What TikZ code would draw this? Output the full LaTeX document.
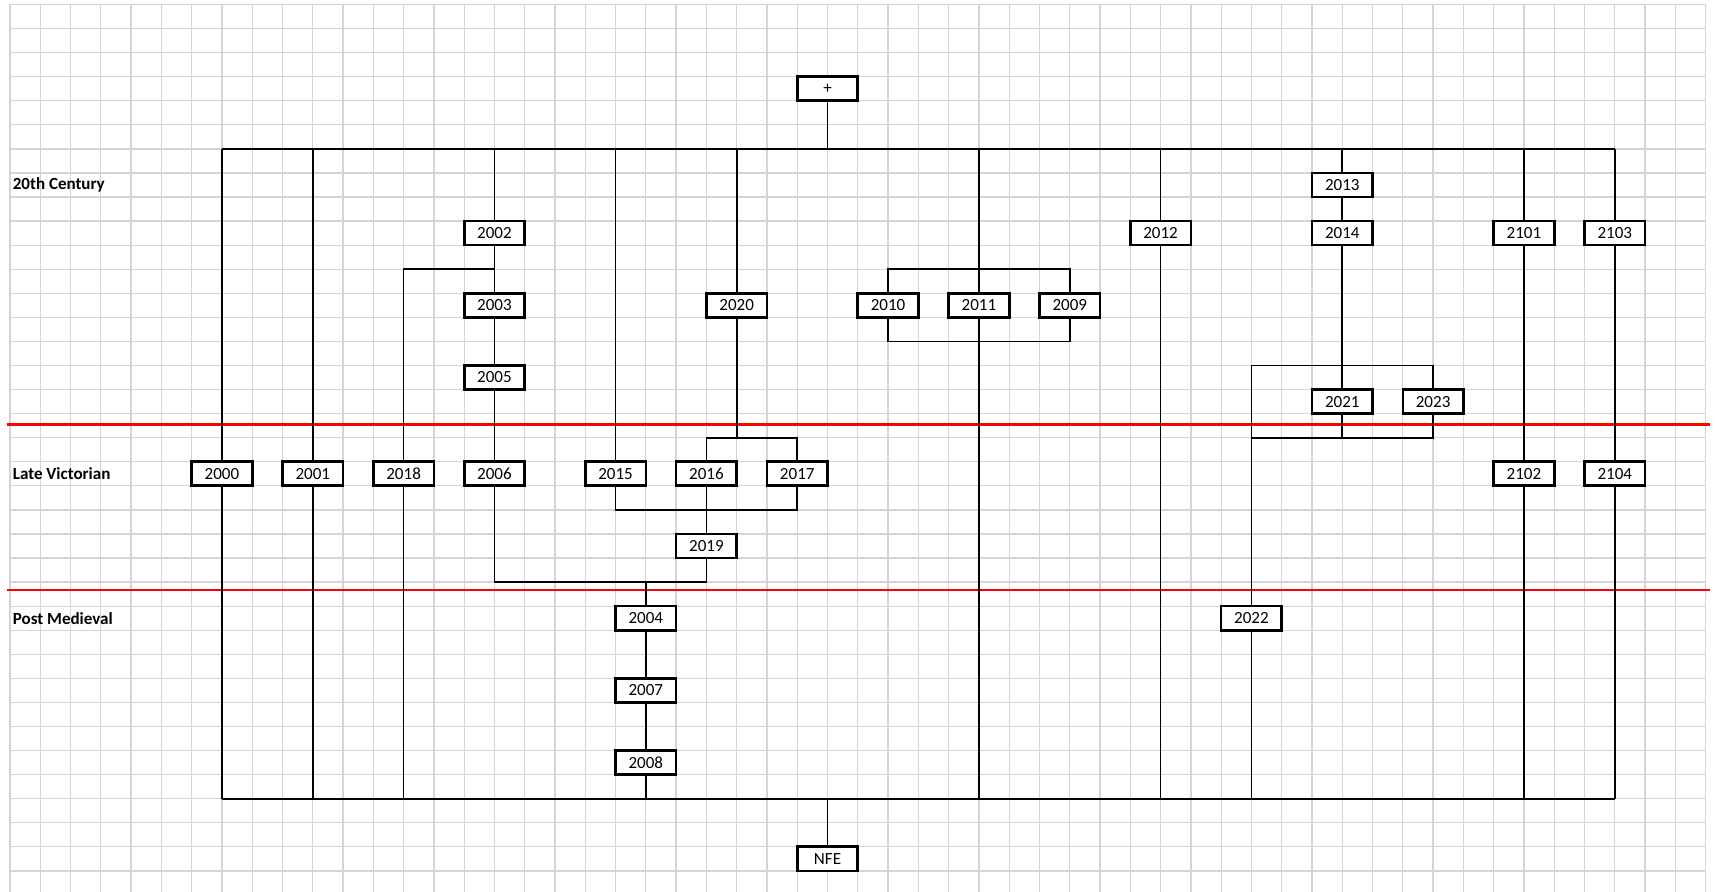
\documentclass[tikz,border=0pt]{standalone}
\usepackage{fontspec}
\setmainfont{Carlito}
\usepackage{tikz}
\definecolor{Gr}{RGB}{212, 212, 212}
\definecolor{R}{RGB}{255, 0, 0}
\tikzset{
	celda/.style={color=Gr, line width=0.6pt},
	fase/.style={color=R, line width=1pt},
	caja/.style={draw, fill=white, line width=1.25pt, minimum width=1cm, minimum height=0.3974cm, inner sep=0pt, font=\fontsize{8}{9}\selectfont},
	periodo/.style={anchor=west, inner sep=0pt, font=\bfseries\fontsize{8}{9}\selectfont},
	linea/.style={line width=0.8pt}
}

\begin{document}
\begin{tikzpicture}[x=0.5cm, y=-0.3974cm]
	\useasboundingbox (-0.33,-0.187) rectangle (56.31,36.87);

	%Cuadricula de fondo
	\foreach \c in {0,...,56}
		\draw[celda] (\c,0) -- (\c,36.87);
	\foreach \r in {0,...,36}
		\draw[celda] (0,\r) -- (56,\r);

	%Lineas rojas entre periodos
	\draw[fase] (-0.1,17.45) -- (56.14,17.45);
	\draw[fase] (-0.1,24.33) -- (56.14,24.33);

	%Periodos
	\node[periodo] (siglo) at (0.08,7.5) {20th Century};
	\node[periodo] (victoriano) at (0.08,19.5) {Late Victorian};
	\node[periodo] (medieval) at (0.08,25.5) {Post Medieval};

	%Cajas
	\node[caja] (mas) at (27,3.5) {+};
	\node[caja] (n2013) at (44,7.5) {2013};
	\node[caja] (n2002) at (16,9.5) {2002};
	\node[caja] (n2012) at (38,9.5) {2012};
	\node[caja] (n2014) at (44,9.5) {2014};
	\node[caja] (n2101) at (50,9.5) {2101};
	\node[caja] (n2103) at (53,9.5) {2103};
	\node[caja] (n2003) at (16,12.5) {2003};
	\node[caja] (n2020) at (24,12.5) {2020};
	\node[caja] (n2010) at (29,12.5) {2010};
	\node[caja] (n2011) at (32,12.5) {2011};
	\node[caja] (n2009) at (35,12.5) {2009};
	\node[caja] (n2005) at (16,15.5) {2005};
	\node[caja] (n2021) at (44,16.5) {2021};
	\node[caja] (n2023) at (47,16.5) {2023};
	\node[caja] (n2000) at (7,19.5) {2000};
	\node[caja] (n2001) at (10,19.5) {2001};
	\node[caja] (n2018) at (13,19.5) {2018};
	\node[caja] (n2006) at (16,19.5) {2006};
	\node[caja] (n2015) at (20,19.5) {2015};
	\node[caja] (n2016) at (23,19.5) {2016};
	\node[caja] (n2017) at (26,19.5) {2017};
	\node[caja] (n2102) at (50,19.5) {2102};
	\node[caja] (n2104) at (53,19.5) {2104};
	\node[caja] (n2019) at (23,22.5) {2019};
	\node[caja] (n2004) at (21,25.5) {2004};
	\node[caja] (n2022) at (41,25.5) {2022};
	\node[caja] (n2007) at (21,28.5) {2007};
	\node[caja] (n2008) at (21,31.5) {2008};
	\node[caja] (nfe) at (27,35.5) {NFE};

	%Puntos de union
	\coordinate (arribaI) at (7,6);
	\coordinate (arribaD) at (53,6);
	\coordinate (abajoI) at (7,33);
	\coordinate (abajoD) at (53,33);
	\coordinate (u2018) at (16,11);
	\coordinate (u2020) at (24,18);
	\coordinate (u2019) at (23,21);
	\coordinate (u2004) at (21,24);
	\coordinate (u2011a) at (32,11);
	\coordinate (u2011b) at (32,14);
	\coordinate (u2022a) at (41,15);
	\coordinate (u2022b) at (41,18);

	\begin{scope}[linea]
		%Barras superior e inferior
		\draw (arribaI) -- (arribaD);
		\draw (abajoI) -- (abajoD);
		\draw (mas.south) -- (mas |- arribaI);
		\draw (nfe.north) -- (nfe |- abajoI);

		%Columnas simples
		\foreach \n in {n2000,n2001,n2012}{
			\draw (\n.north) -- (\n |- arribaI);
			\draw (\n.south) -- (\n |- abajoI);
		}

		%2002 - 2006
		\draw (n2002.north) -- (n2002 |- arribaI);
		\draw (n2002.south) -- (n2003.north);
		\draw (n2003.south) -- (n2005.north);
		\draw (n2005.south) -- (n2006.north);
		\draw (u2018) -| (n2018.north);
		\draw (n2018.south) -- (n2018 |- abajoI);

		%2015, 2016, 2017, 2019
		\draw (n2015.north) -- (n2015 |- arribaI);
		\draw (n2020.north) -- (n2020 |- arribaI);
		\draw (n2020.south) -- (u2020);
		\draw (n2016.north) |- (u2020) -| (n2017.north);
		\draw (n2015.south) |- (u2019) -| (n2017.south);
		\draw (n2016.south) -- (n2019.north);

		%2006 + 2019 hacia 2004
		\draw (n2006.south) |- (u2004) -| (n2019.south);
		\draw (u2004) -- (n2004.north);
		\draw (n2004.south) -- (n2007.north);
		\draw (n2007.south) -- (n2008.north);
		\draw (n2008.south) -- (n2008 |- abajoI);

		%2010, 2011, 2009
		\draw (n2011.north) -- (n2011 |- arribaI);
		\draw (n2010.north) |- (u2011a) -| (n2009.north);
		\draw (n2010.south) |- (u2011b) -| (n2009.south);
		\draw (n2011.south) -- (n2011 |- abajoI);

		%2013, 2014, 2021, 2023, 2022
		\draw (n2013.north) -- (n2013 |- arribaI);
		\draw (n2013.south) -- (n2014.north);
		\draw (n2014.south) -- (n2021.north);
		\draw (u2022a) -| (n2023.north);
		\draw (u2022b) -| (n2023.south);
		\draw (n2021.south) -- (n2021 |- u2022b);
		\draw (u2022a) -- (n2022.north);
		\draw (n2022.south) -- (n2022 |- abajoI);

		%2101 - 2104
		\foreach \a/\b in {n2101/n2102,n2103/n2104}{
			\draw (\a.north) -- (\a |- arribaI);
			\draw (\a.south) -- (\b.north);
			\draw (\b.south) -- (\b |- abajoI);
		}
	\end{scope}
\end{tikzpicture}
\end{document}
